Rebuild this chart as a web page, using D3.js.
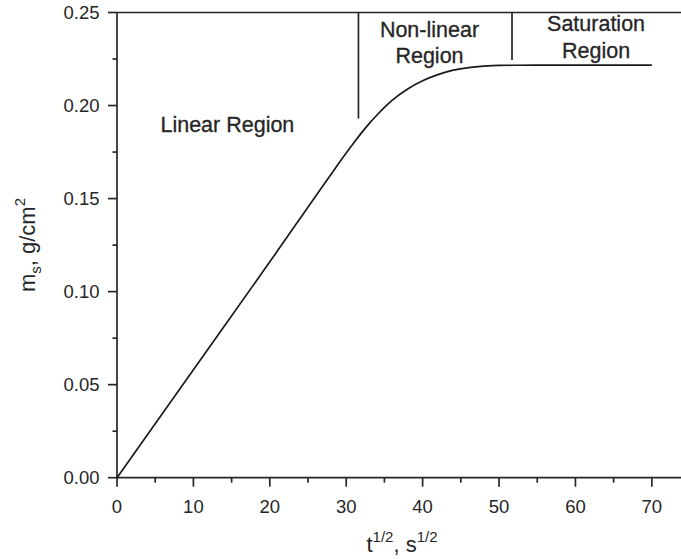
<!DOCTYPE html>
<html>
<head>
<meta charset="utf-8">
<script src="https://cdn.jsdelivr.net/npm/d3@7"></script>
<style>
  html, body { margin: 0; padding: 0; background: #fff; }
  svg { display: block; font-family: "Liberation Sans", Arial, sans-serif; }
</style>
</head>
<body>
<div id="chart"></div>
<script>
// ---- data ----
var tSqrt = [0, 10, 20, 28, 30, 31, 32, 33, 34, 35, 36, 38, 40, 42, 44, 46, 48, 50, 55, 60, 70];
var mass  = [0, 0.058, 0.116, 0.163, 0.1745, 0.1800, 0.1853, 0.1903, 0.1948, 0.1990, 0.2028, 0.2088, 0.2133, 0.2166, 0.2190, 0.2204, 0.2212, 0.2216, 0.2217, 0.2217, 0.2217];
var xMajor = [0, 10, 20, 30, 40, 50, 60, 70];
var xMinor = [5, 15, 25, 35, 45, 55, 65];
var yMajor = [0, 0.05, 0.10, 0.15, 0.20, 0.25];
var yMinor = [0.025, 0.075, 0.125, 0.175, 0.225];
// region dividers: x position, bottom end (ms value)
var dividers = [{ x: 31.6, y: 0.193 }, { x: 51.7, y: 0.2245 }];
var regionLabels = [
  { lines: ["Linear Region"], x: 14.45, y: 0.186 },
  { lines: ["Non-linear", "Region"], x: 40.9, y: 0.2371 },
  { lines: ["Saturation", "Region"], x: 62.7, y: 0.2398 }
];

var W = 681, H = 559;
var ink = "#262626";
var svg = d3.select("#chart").append("svg").attr("width", W).attr("height", H);

var x = d3.scaleLinear().domain([0, 74]).range([117, 682.4]);
var y = d3.scaleLinear().domain([0, 0.25]).range([477.7, 12.5]);

// ---- axes ----
var axG = svg.append("g").attr("stroke", ink).attr("stroke-width", 1.7);
// left
axG.append("line").attr("x1", x(0)).attr("x2", x(0)).attr("y1", y(0.25)).attr("y2", y(0) + 1);
// bottom
axG.append("line").attr("x1", x(0) - 1).attr("x2", W).attr("y1", y(0)).attr("y2", y(0));
// top
axG.append("line").attr("x1", x(0)).attr("x2", W).attr("y1", y(0.25)).attr("y2", y(0.25));

// ticks
axG.selectAll(".ymaj").data(yMajor).enter().append("line")
  .attr("x1", x(0) - 9).attr("x2", x(0))
  .attr("y1", function (d) { return y(d); }).attr("y2", function (d) { return y(d); });
axG.selectAll(".ymin").data(yMinor).enter().append("line")
  .attr("x1", x(0) - 4.5).attr("x2", x(0))
  .attr("y1", function (d) { return y(d); }).attr("y2", function (d) { return y(d); });
axG.selectAll(".xmaj").data(xMajor).enter().append("line")
  .attr("x1", function (d) { return x(d); }).attr("x2", function (d) { return x(d); })
  .attr("y1", y(0)).attr("y2", y(0) + 9);
axG.selectAll(".xmin").data(xMinor).enter().append("line")
  .attr("x1", function (d) { return x(d); }).attr("x2", function (d) { return x(d); })
  .attr("y1", y(0)).attr("y2", y(0) + 5);

// tick labels
svg.append("g").selectAll("text").data(yMajor).enter().append("text")
  .attr("x", 99.5).attr("y", function (d) { return y(d); }).attr("dy", "0.36em")
  .attr("text-anchor", "end").attr("font-size", 18.5).attr("fill", ink)
  .text(function (d) { return d.toFixed(2); });
svg.append("g").selectAll("text").data(xMajor).enter().append("text")
  .attr("x", function (d) { return x(d); }).attr("y", 513)
  .attr("text-anchor", "middle").attr("font-size", 18.5).attr("fill", ink)
  .text(function (d) { return d; });

// axis titles
var xt = svg.append("text").attr("x", 402).attr("y", 552).attr("text-anchor", "middle")
  .attr("font-size", 22).attr("fill", ink);
xt.append("tspan").text("t");
xt.append("tspan").attr("font-size", 15).attr("dy", -10).text("1/2");
xt.append("tspan").attr("dy", 10).text(", s");
xt.append("tspan").attr("font-size", 15).attr("dy", -10).text("1/2");

var yt = svg.append("text").attr("transform", "translate(35,245) rotate(-90)")
  .attr("text-anchor", "middle").attr("font-size", 22).attr("fill", ink);
yt.append("tspan").text("m");
yt.append("tspan").attr("font-size", 15).attr("dy", 6).text("s");
yt.append("tspan").attr("dy", -6).text(", g/cm");
yt.append("tspan").attr("font-size", 15).attr("dy", -10).text("2");

// ---- curve ----
var pts = tSqrt.map(function (t, i) { return [t, mass[i]]; });
var line = d3.line()
  .x(function (d) { return x(d[0]); })
  .y(function (d) { return y(d[1]); })
  .curve(d3.curveMonotoneX);
svg.append("path").datum(pts)
  .attr("fill", "none").attr("stroke", "#1a1a1a").attr("stroke-width", 1.7)
  .attr("d", line);

// ---- region dividers + labels ----
svg.append("g").selectAll("line").data(dividers).enter().append("line")
  .attr("x1", function (d) { return x(d.x); }).attr("x2", function (d) { return x(d.x); })
  .attr("y1", y(0.25)).attr("y2", function (d) { return y(d.y); })
  .attr("stroke", ink).attr("stroke-width", 1.7);

regionLabels.forEach(function (r) {
  var t = svg.append("text").attr("text-anchor", "middle")
    .attr("font-size", 21.5).attr("fill", ink)
    .attr("stroke", ink).attr("stroke-width", 0.3)
    .attr("x", x(r.x)).attr("y", y(r.y));
  r.lines.forEach(function (s, i) {
    t.append("tspan").attr("x", x(r.x)).attr("dy", i === 0 ? 0 : 26.5).text(s);
  });
});
</script>
</body>
</html>
